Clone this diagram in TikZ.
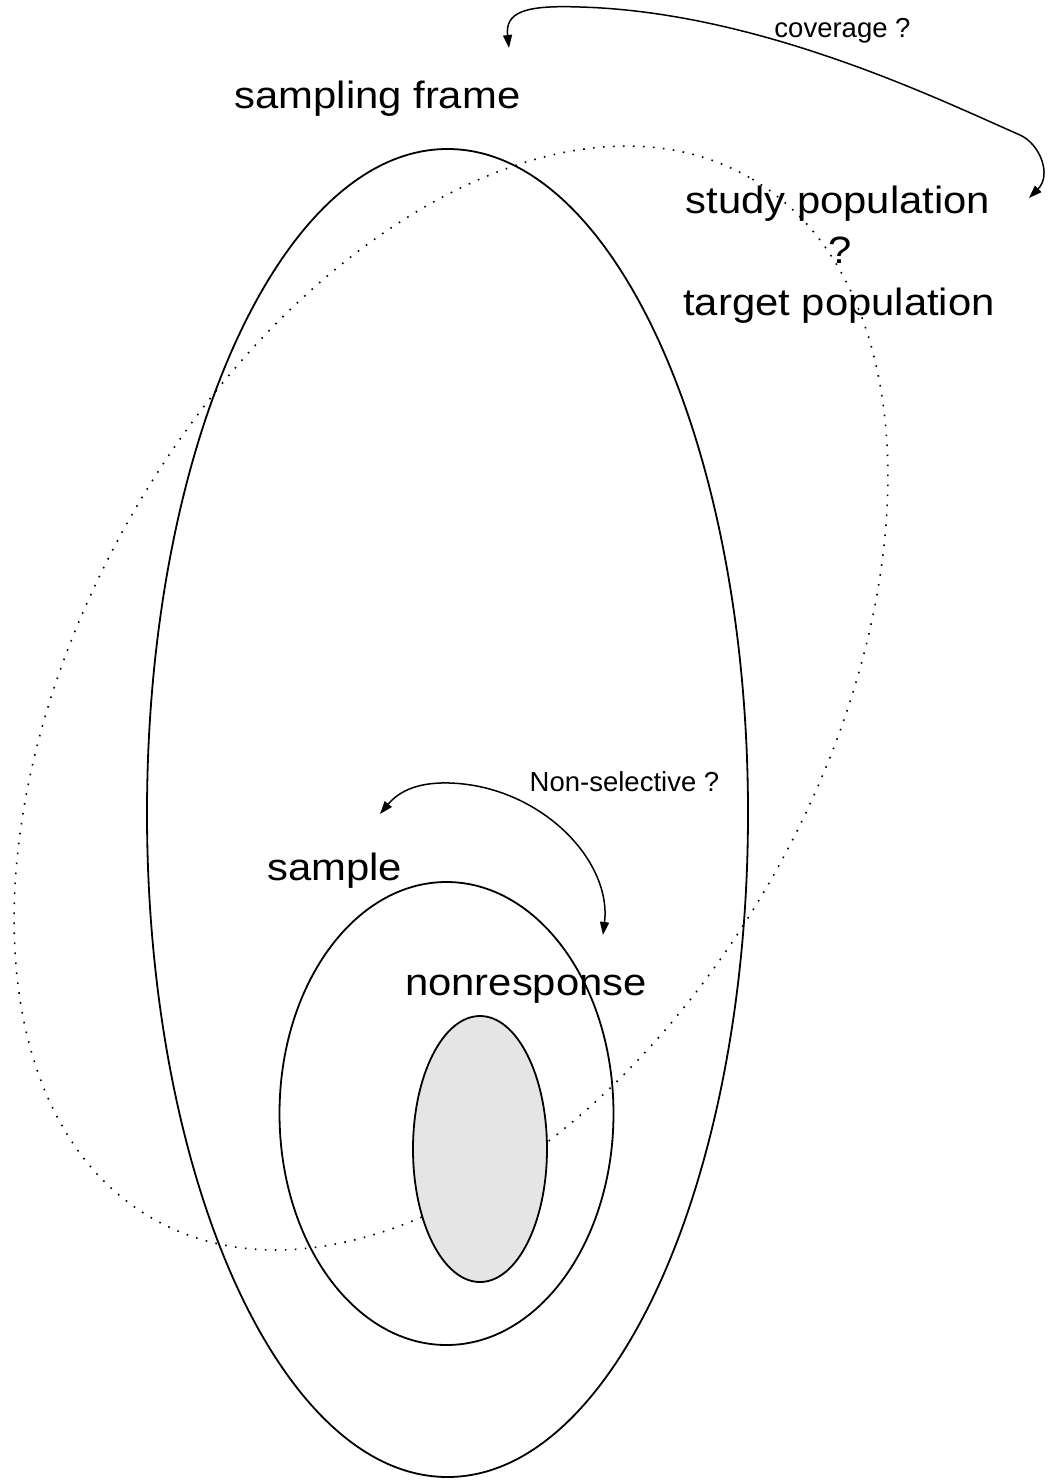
\documentclass[tikz,border=0pt]{standalone}
\usepackage{fontspec}
\setmainfont{Liberation Sans}
\newfontfamily\bigfont[FakeStretch=1.1]{Liberation Sans}
\usetikzlibrary{arrows.meta}
\definecolor{nrgrey}{HTML}{E5E5E5}
\tikzset{
  outline/.style={draw=black, line width=1.8pt},
  dotline/.style={draw=black, line width=1.6pt, dash pattern=on 1.6pt off 8.4pt},
  biglabel/.style={anchor=base, inner sep=0pt, font=\bigfont\fontsize{38}{44}\selectfont},
  smalllabel/.style={anchor=base, inner sep=0pt, font=\fontsize{27.5}{32}\selectfont},
  curvearrow/.style={draw=black, line width=1.5pt, {Triangle[length=13pt,width=9pt]}-{Triangle[length=13pt,width=9pt]}}
}
\begin{document}
\begin{tikzpicture}[x=1pt,y=-1pt]
\useasboundingbox (0,0) rectangle (1050,1481);
% sampling frame ellipse
\draw[outline] (447.5,813) ellipse [x radius=300.5pt, y radius=664pt];
% study / target population (dotted, tilted)
\draw[dotline, rotate around={60.2:(451,698)}] (451,698) ellipse [x radius=600pt, y radius=368pt];
% sample ellipse
\draw[outline] (446.5,1113.5) ellipse [x radius=167pt, y radius=231.5pt];
% nonresponse ellipse
\draw[outline, fill=nrgrey] (480,1149) ellipse [x radius=67pt, y radius=133pt];

% labels
\node[biglabel] (frame) at (377.5,108) {sampling frame};
\node[biglabel] (study) at (838,213) {study population};
\node[biglabel] (q) at (840,263) {?};
\node[biglabel] (target) at (839,315) {target population};
\node[biglabel] (sample) at (334.5,880) {sample};
\node[biglabel] (nonresp) at (526,995) {nonresponse};
\node[smalllabel] (cov) at (842.5,37) {coverage ?};
\node[smalllabel] (nonsel) at (624.5,791.7) {Non-selective ?};

% coverage arrow
\coordinate (covA) at (509,48);
\coordinate (covB) at (1029,198);
\draw[curvearrow] (covA) .. controls (505,12) and (525,5) .. (580,7)
  .. controls (760,12) and (940,100) .. (1020,135)
  .. controls (1040,144) and (1052,175) .. (covB);

% non-selective arrow
\coordinate (nsA) at (380,814);
\coordinate (nsB) at (603,935);
\draw[curvearrow] (nsA) .. controls (400,790) and (420,782) .. (450,783)
  .. controls (540,786) and (612,860) .. (nsB);
\end{tikzpicture}
\end{document}
